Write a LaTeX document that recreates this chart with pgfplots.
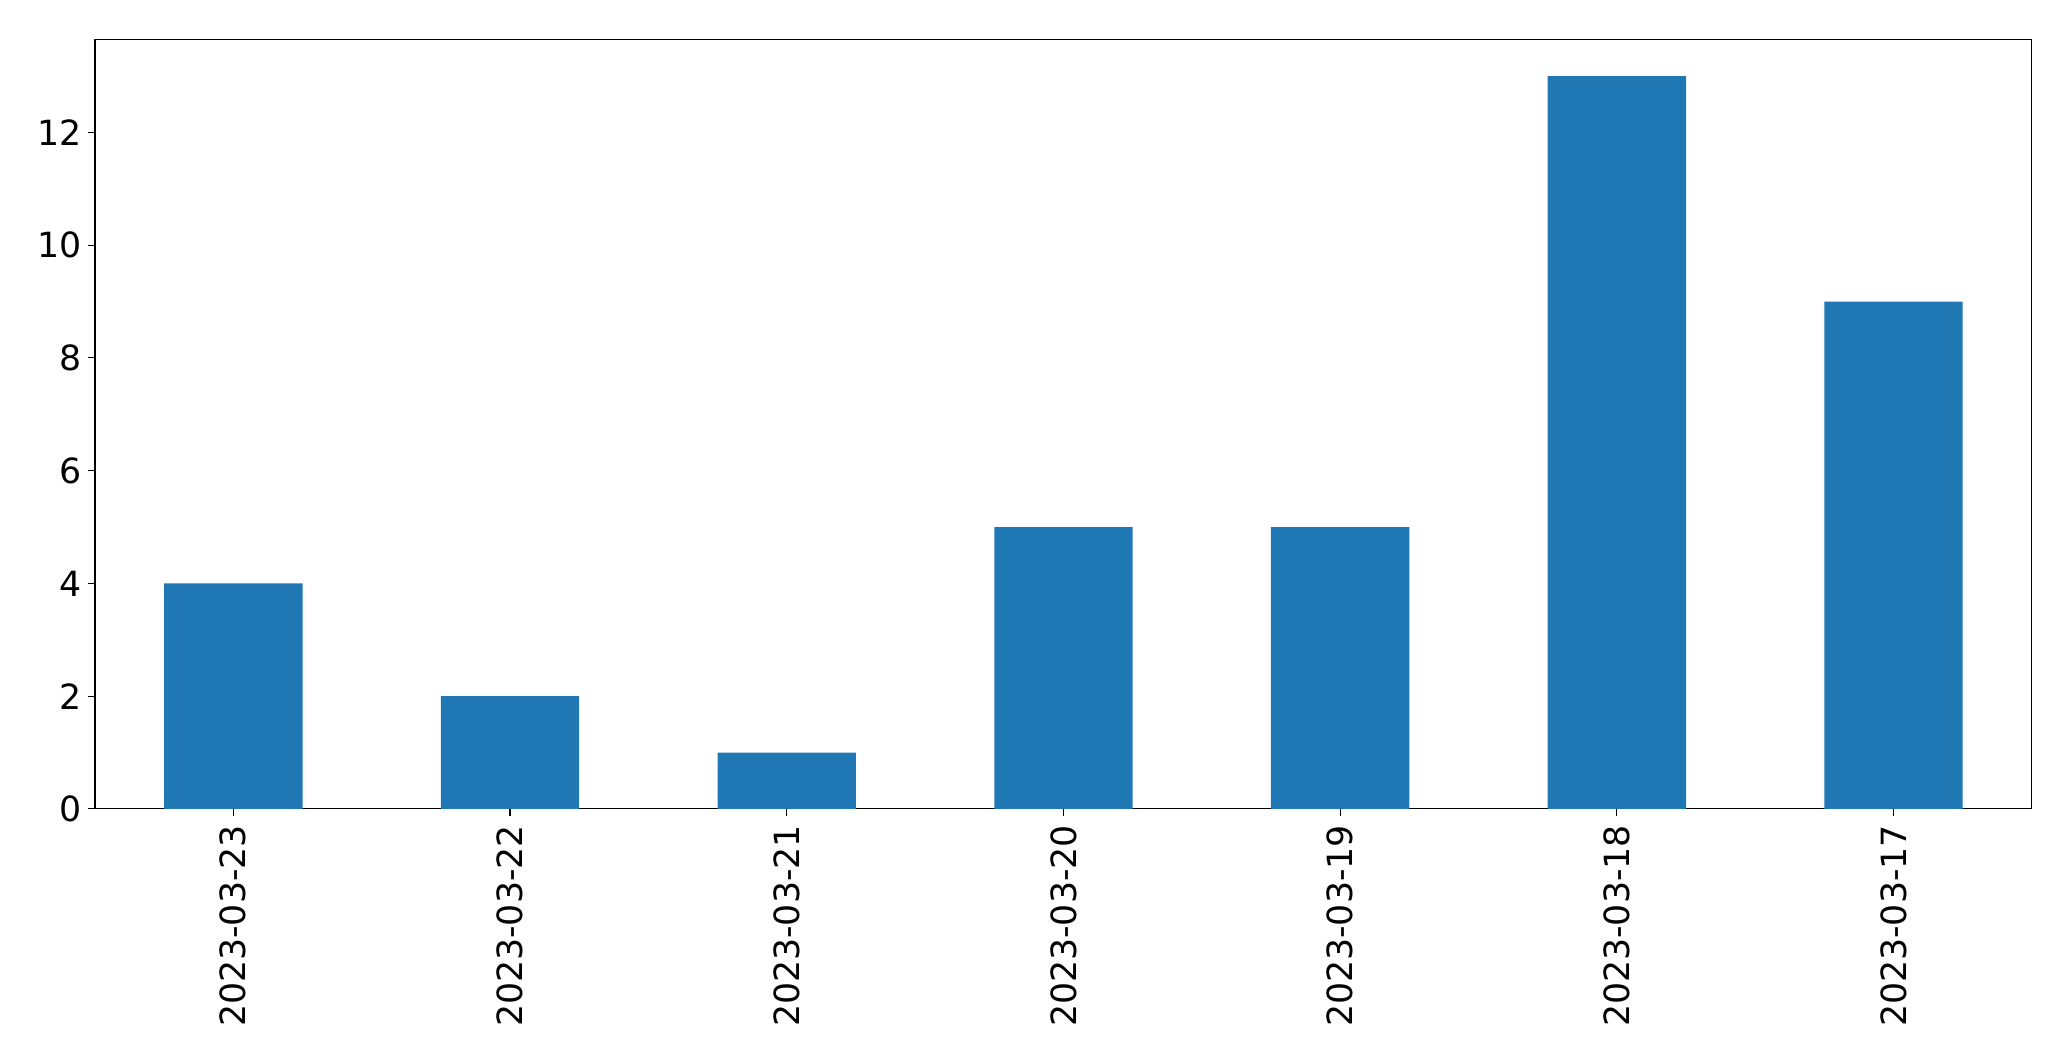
\documentclass[border=0pt]{standalone}
\usepackage{fontspec}
\setmainfont{DejaVu Sans}
\usepackage{pgfplots}
\pgfplotsset{compat=1.18}
\definecolor{barblue}{HTML}{1F77B4}
\begin{document}
\begin{tikzpicture}
\useasboundingbox (-68.4pt,-181.4pt) rectangle (1422.7pt,582.4pt);
\begin{axis}[
  at={(0pt,0pt)}, anchor=south west,
  scale only axis,
  width=1394.6pt, height=554pt,
  xmin=-0.5, xmax=6.5,
  ymin=0, ymax=13.65,
  xtick={0,1,2,3,4,5,6},
  xticklabels={2023-03-23,2023-03-22,2023-03-21,2023-03-20,2023-03-19,2023-03-18,2023-03-17},
  ytick={0,2,4,6,8,10,12},
  /pgf/number format/assume math mode=true,
  tick label style={font=\fontsize{25}{30}\selectfont},
  xticklabel style={rotate=90, anchor=east, inner sep=0pt},
  yticklabel style={anchor=east, inner sep=0pt},
  xticklabel shift=6.5pt,
  yticklabel shift=4.5pt,
  tick align=outside,
  major tick length=5pt,
  xtick pos=bottom, ytick pos=left,
  tick style={black, line width=0.8pt},
  axis line style={black, line width=0.8pt},
  ybar, bar width=0.5,
]
\addplot[fill=barblue, draw=none] coordinates {(0,4) (1,2) (2,1) (3,5) (4,5) (5,13) (6,9)};
\end{axis}
\end{tikzpicture}
\end{document}
